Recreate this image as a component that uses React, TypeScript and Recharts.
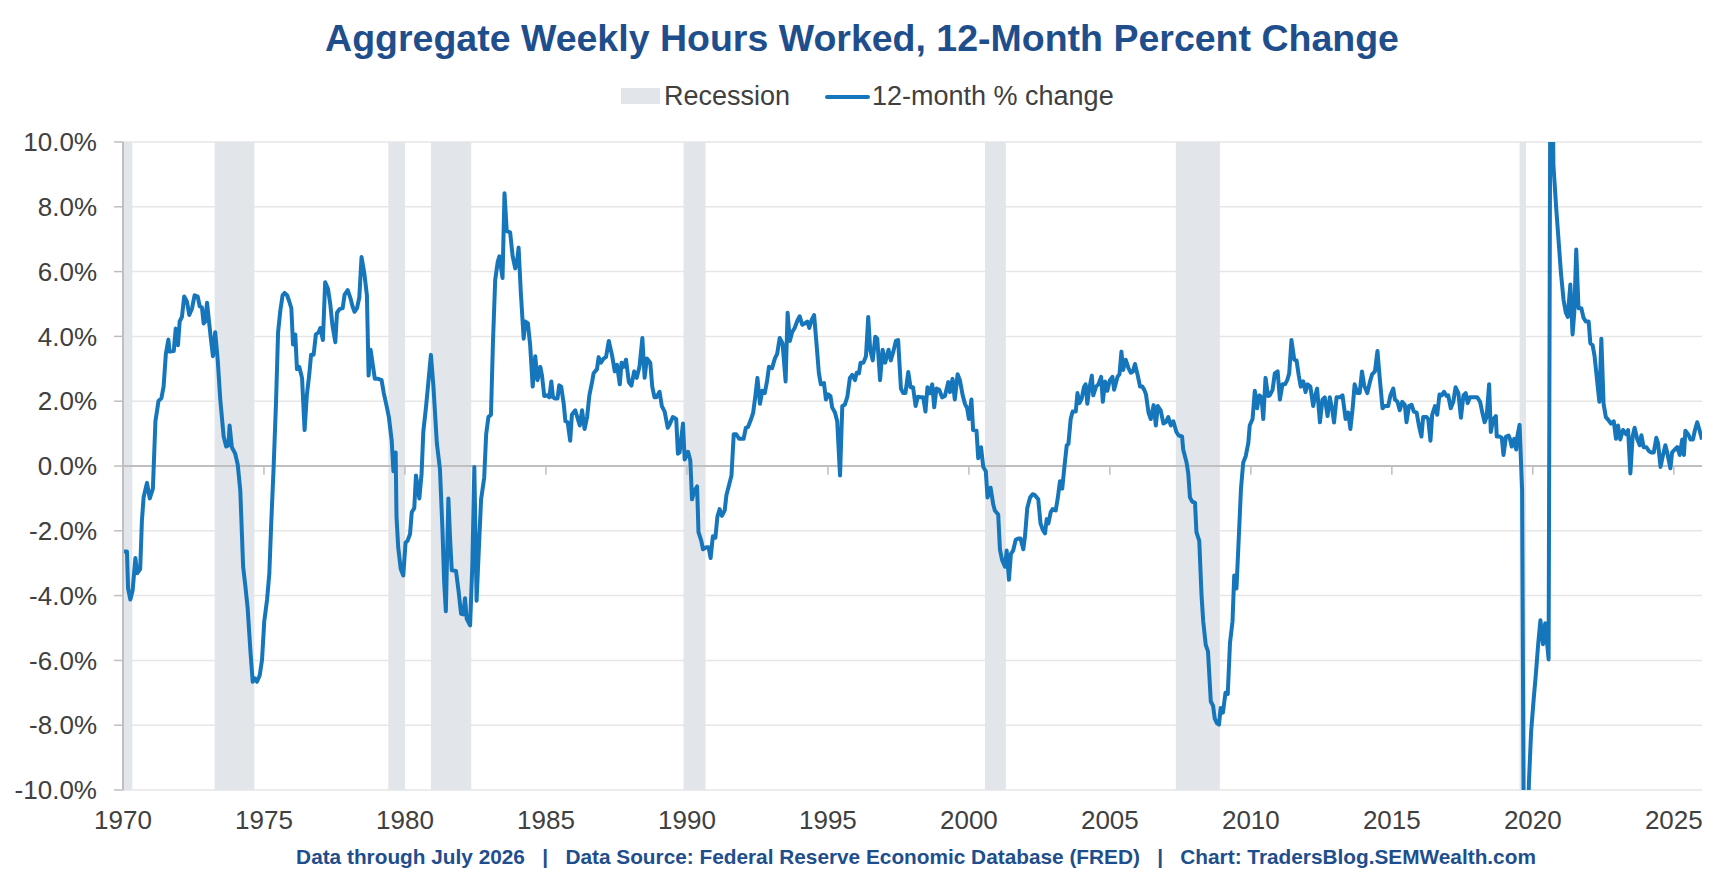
import React from 'react';
import {
  ComposedChart,
  Line,
  XAxis,
  YAxis,
  CartesianGrid,
  ReferenceArea,
  ReferenceLine,
} from 'recharts';

const TITLE = 'Aggregate Weekly Hours Worked, 12-Month Percent Change';
const FOOTER = 'Data through July 2026   |   Data Source: Federal Reserve Economic Database (FRED)   |   Chart: TradersBlog.SEMWealth.com';
const LEGEND_RECESSION = 'Recession';
const LEGEND_LINE = '12-month % change';

const xTicks = [1970, 1975, 1980, 1985, 1990, 1995, 2000, 2005, 2010, 2015, 2020, 2025];
const yTicks = [-10, -8, -6, -4, -2, 0, 2, 4, 6, 8, 10];

const recessions: [number, number][] = [
  [1970.0, 1970.33], [1973.25, 1974.66], [1979.41, 1980.0], [1980.92, 1982.35],
  [1989.88, 1990.66], [2000.57, 2001.31], [2007.34, 2008.9], [2019.53, 2019.76],
];

const pts1970s: [number, number][] = [
  [1970.00,-2.64],[1970.14,-2.64],[1970.18,-3.78],[1970.26,-4.12],[1970.34,-3.85],[1970.44,-2.84],[1970.50,-3.31],[1970.61,-3.18],[1970.67,-1.70],[1970.73,-0.97],[1970.85,-0.52],[1970.95,-1.00],
  [1971.06,-0.70],[1971.15,1.38],[1971.26,2.01],[1971.36,2.09],[1971.44,2.45],[1971.52,3.46],[1971.61,3.90],[1971.65,3.53],[1971.80,3.55],[1971.87,4.24],[1971.95,3.73],
  [1972.01,4.46],[1972.09,4.60],[1972.17,5.23],[1972.27,5.07],[1972.35,4.66],[1972.45,4.87],[1972.54,5.27],[1972.65,5.23],[1972.72,4.93],[1972.80,4.89],[1972.86,4.40],[1972.92,4.46],[1972.98,5.04],
  [1973.10,4.06],[1973.19,3.39],[1973.27,4.13],[1973.36,3.26],[1973.45,2.05],[1973.57,0.91],[1973.66,0.60],[1973.74,0.64],[1973.78,1.25],[1973.86,0.58],[1973.98,0.38],
  [1974.07,0.04],[1974.16,-0.76],[1974.26,-3.11],[1974.34,-3.71],[1974.42,-4.38],[1974.52,-5.72],[1974.60,-6.66],[1974.67,-6.55],[1974.75,-6.66],[1974.85,-6.46],[1974.93,-5.99],
  [1975.01,-4.79],[1975.11,-4.12],[1975.19,-3.31],[1975.26,-1.70],[1975.34,-0.09],[1975.43,2.05],[1975.50,4.13],[1975.58,4.80],[1975.66,5.27],[1975.73,5.34],[1975.82,5.27],[1975.90,5.07],[1975.97,4.87],
  [1976.03,3.75],[1976.11,4.06],[1976.17,2.99],[1976.25,3.06],[1976.35,2.72],[1976.44,1.11],[1976.52,2.18],[1976.61,2.86],[1976.67,3.43],[1976.76,3.43],[1976.84,4.06],[1976.94,4.13],
  [1977.00,4.26],[1977.09,3.89],[1977.17,5.67],[1977.27,5.47],[1977.35,5.00],[1977.43,4.33],[1977.53,3.82],[1977.59,4.73],[1977.68,4.84],[1977.79,4.87],[1977.86,5.29],[1977.97,5.43],
  [1978.06,5.20],[1978.14,4.93],[1978.21,4.76],[1978.30,4.87],[1978.38,5.20],[1978.46,6.45],[1978.56,5.94],[1978.65,5.27],[1978.71,2.79],[1978.78,3.59],[1978.87,3.06],[1978.93,2.69],
  [1979.05,2.69],[1979.17,2.65],[1979.25,2.25],[1979.35,1.85],[1979.43,1.51],[1979.53,0.78],[1979.59,-0.16],[1979.67,0.42],[1979.70,-1.57],[1979.76,-2.51],[1979.85,-3.18],[1979.94,-3.38],
];

const pts1980s: [number, number][] = [
  [1980.02,-2.37],[1980.09,-2.31],[1980.18,-2.10],[1980.24,-1.43],[1980.33,-1.30],[1980.39,-0.29],[1980.51,-1.00],[1980.59,-0.23],[1980.65,1.05],[1980.75,1.85],[1980.83,2.59],[1980.92,3.43],
  [1981.01,2.45],[1981.13,0.71],[1981.24,-0.09],[1981.33,-1.97],[1981.39,-3.58],[1981.45,-4.48],[1981.54,-1.00],[1981.60,-2.24],[1981.66,-3.22],[1981.81,-3.24],[1981.90,-3.85],[1981.99,-4.56],
  [1982.07,-4.58],[1982.13,-4.08],[1982.19,-4.72],[1982.31,-4.92],[1982.39,-3.04],[1982.46,-0.03],[1982.54,-4.16],[1982.63,-2.37],[1982.70,-1.03],[1982.81,-0.36],[1982.88,0.98],[1982.96,1.51],
  [1983.05,1.58],[1983.12,3.79],[1983.20,5.74],[1983.29,6.30],[1983.35,6.47],[1983.46,5.80],[1983.53,8.42],[1983.61,7.25],[1983.73,7.21],[1983.82,6.47],[1983.91,6.10],[1983.97,6.27],
  [1984.03,6.74],[1984.11,5.34],[1984.21,3.93],[1984.27,4.46],[1984.36,4.40],[1984.44,3.73],[1984.53,2.45],[1984.62,3.39],[1984.70,2.65],[1984.80,3.06],[1984.86,2.79],[1984.94,2.16],
  [1985.04,2.18],[1985.12,2.12],[1985.19,2.61],[1985.25,2.12],[1985.33,2.08],[1985.41,2.08],[1985.47,2.49],[1985.54,2.45],[1985.63,1.92],[1985.69,1.38],[1985.77,1.35],[1985.86,0.78],[1985.92,1.58],
  [1986.04,1.72],[1986.13,1.45],[1986.20,1.25],[1986.28,1.72],[1986.37,1.14],[1986.46,1.51],[1986.54,2.18],[1986.64,2.61],[1986.69,2.86],[1986.81,2.99],[1986.87,3.36],[1986.95,3.19],
  [1987.05,3.32],[1987.13,3.36],[1987.23,3.86],[1987.35,3.39],[1987.44,2.92],[1987.52,3.12],[1987.62,2.52],[1987.68,3.19],[1987.76,3.06],[1987.84,3.28],[1987.94,2.59],
  [1988.03,2.48],[1988.13,2.92],[1988.22,2.72],[1988.32,3.08],[1988.42,3.95],[1988.50,2.72],[1988.58,3.32],[1988.70,3.19],[1988.77,2.45],[1988.85,2.12],[1988.92,2.12],
  [1989.03,2.29],[1989.11,1.85],[1989.21,1.68],[1989.32,1.18],[1989.38,1.27],[1989.50,1.51],[1989.62,1.45],[1989.68,0.38],[1989.74,0.42],[1989.86,1.31],[1989.92,0.20],
];

const pts1990s: [number, number][] = [
  [1990.04,0.44],[1990.12,0.17],[1990.18,-1.03],[1990.27,-0.76],[1990.36,-0.63],[1990.41,-2.04],[1990.51,-2.31],[1990.57,-2.57],[1990.69,-2.51],[1990.77,-2.51],[1990.84,-2.84],[1990.92,-2.17],
  [1991.01,-2.21],[1991.08,-1.57],[1991.16,-1.33],[1991.24,-1.54],[1991.34,-1.37],[1991.40,-0.90],[1991.48,-0.63],[1991.58,-0.29],[1991.66,0.98],[1991.75,0.98],[1991.85,0.84],
  [1992.01,0.84],[1992.09,1.18],[1992.17,1.21],[1992.26,1.41],[1992.35,1.65],[1992.43,2.18],[1992.50,2.72],[1992.59,1.92],[1992.67,2.32],[1992.76,2.25],[1992.84,2.61],[1992.91,3.06],
  [1993.02,3.02],[1993.12,3.32],[1993.20,3.46],[1993.29,3.95],[1993.39,3.79],[1993.50,2.61],[1993.57,4.73],[1993.65,3.86],[1993.73,4.13],[1993.82,4.26],[1993.92,4.49],
  [1994.00,4.62],[1994.09,4.36],[1994.18,4.40],[1994.27,4.46],[1994.34,4.26],[1994.42,4.50],[1994.51,4.66],[1994.60,3.73],[1994.68,2.86],[1994.75,2.52],[1994.86,2.56],[1994.93,2.05],
  [1995.01,2.21],[1995.09,2.16],[1995.15,1.81],[1995.25,1.65],[1995.33,1.38],[1995.43,-0.29],[1995.51,1.85],[1995.60,1.89],[1995.69,2.14],[1995.78,2.72],[1995.86,2.81],[1995.96,2.65],
  [1996.02,2.88],[1996.10,2.86],[1996.16,3.19],[1996.26,3.19],[1996.35,3.39],[1996.43,4.60],[1996.50,3.59],[1996.59,3.26],[1996.68,3.99],[1996.75,3.93],[1996.85,2.65],[1996.94,3.59],
  [1997.03,3.19],[1997.15,3.59],[1997.23,3.26],[1997.32,3.53],[1997.41,3.86],[1997.49,3.89],[1997.59,2.39],[1997.67,2.25],[1997.75,2.25],[1997.85,2.90],[1997.93,2.43],
  [1998.02,2.43],[1998.11,1.85],[1998.19,2.14],[1998.28,2.12],[1998.38,2.12],[1998.46,1.68],[1998.53,2.43],[1998.62,2.25],[1998.70,2.52],[1998.77,1.81],[1998.85,2.39],[1998.95,2.35],
  [1999.05,2.12],[1999.15,2.16],[1999.27,2.59],[1999.33,2.28],[1999.42,2.69],[1999.50,2.05],[1999.60,2.83],[1999.68,2.65],[1999.78,2.18],[1999.86,1.92],[1999.94,1.78],
];

const pts2000s: [number, number][] = [
  [2000.00,1.45],[2000.09,2.05],[2000.15,1.11],[2000.27,1.09],[2000.33,0.24],[2000.43,0.58],[2000.51,-0.03],[2000.60,-0.16],[2000.66,-0.97],[2000.77,-0.67],[2000.86,-1.17],[2000.92,-1.37],
  [2001.04,-1.50],[2001.10,-2.57],[2001.18,-2.91],[2001.28,-3.11],[2001.34,-2.61],[2001.42,-3.51],[2001.49,-2.71],[2001.57,-2.61],[2001.66,-2.28],[2001.75,-2.24],[2001.83,-2.24],[2001.93,-2.57],[2001.99,-2.17],
  [2002.07,-1.30],[2002.17,-0.97],[2002.26,-0.87],[2002.34,-0.90],[2002.46,-1.03],[2002.54,-1.77],[2002.62,-1.97],[2002.70,-2.08],[2002.76,-1.64],[2002.82,-1.77],[2002.90,-1.43],[2002.97,-1.33],
  [2003.08,-1.37],[2003.15,-1.00],[2003.23,-0.47],[2003.31,-0.70],[2003.38,-0.09],[2003.47,0.64],[2003.53,0.68],[2003.61,1.45],[2003.68,1.68],[2003.79,1.68],[2003.85,2.25],[2003.92,1.94],
  [2004.00,2.08],[2004.08,2.43],[2004.14,2.52],[2004.20,1.92],[2004.27,2.39],[2004.36,2.79],[2004.41,2.18],[2004.51,2.45],[2004.59,2.52],[2004.69,2.75],[2004.75,1.98],[2004.83,2.61],[2004.91,2.32],
  [2005.00,2.65],[2005.09,2.75],[2005.15,2.35],[2005.27,2.75],[2005.34,2.83],[2005.41,3.53],[2005.47,2.96],[2005.56,3.28],[2005.66,3.02],[2005.74,2.88],[2005.82,2.92],[2005.89,3.15],[2005.99,2.79],
  [2006.07,2.45],[2006.15,2.45],[2006.22,2.35],[2006.28,2.21],[2006.37,1.65],[2006.45,1.45],[2006.55,1.88],[2006.63,1.25],[2006.70,1.85],[2006.80,1.72],[2006.90,1.31],[2006.98,1.35],
  [2007.07,1.51],[2007.16,1.25],[2007.25,1.38],[2007.36,1.05],[2007.44,0.94],[2007.56,0.91],[2007.60,0.51],[2007.72,0.11],[2007.78,-0.23],[2007.84,-0.97],[2007.92,-1.10],
  [2008.02,-1.14],[2008.07,-2.04],[2008.17,-2.31],[2008.25,-3.98],[2008.31,-4.79],[2008.40,-5.52],[2008.48,-5.72],[2008.58,-7.27],[2008.66,-7.40],[2008.72,-7.80],[2008.80,-7.94],[2008.87,-7.98],[2008.93,-7.47],
  [2009.01,-7.61],[2009.10,-7.00],[2009.18,-7.04],[2009.26,-5.46],[2009.35,-4.79],[2009.41,-3.38],[2009.49,-3.78],[2009.57,-2.24],[2009.65,-0.70],[2009.73,0.11],[2009.82,0.31],[2009.91,0.71],[2009.96,1.25],
];

const pts2010s: [number, number][] = [
  [2010.06,1.45],[2010.14,2.32],[2010.22,1.78],[2010.30,2.18],[2010.38,2.12],[2010.44,1.45],[2010.52,2.72],[2010.61,2.16],[2010.67,2.18],[2010.77,2.35],[2010.85,2.86],[2010.95,2.92],
  [2011.03,2.05],[2011.12,2.52],[2011.21,2.52],[2011.29,2.65],[2011.36,2.86],[2011.44,3.89],[2011.54,3.28],[2011.62,3.26],[2011.70,2.79],[2011.77,2.45],[2011.86,2.61],[2011.94,2.28],
  [2012.01,2.52],[2012.11,2.45],[2012.21,1.85],[2012.27,2.12],[2012.35,2.39],[2012.45,1.35],[2012.54,2.05],[2012.62,2.12],[2012.72,1.54],[2012.80,2.12],[2012.89,1.72],[2012.95,1.34],
  [2013.04,2.12],[2013.16,2.12],[2013.25,2.18],[2013.36,1.45],[2013.45,1.65],[2013.53,1.14],[2013.61,1.78],[2013.68,2.52],[2013.78,2.25],[2013.86,2.25],[2013.94,2.92],
  [2014.02,2.48],[2014.13,2.25],[2014.22,2.59],[2014.30,2.83],[2014.40,2.92],[2014.49,3.55],[2014.57,2.72],[2014.67,1.78],[2014.75,1.85],[2014.87,1.85],[2014.95,2.18],
  [2015.05,2.39],[2015.11,2.05],[2015.20,1.98],[2015.28,1.72],[2015.37,1.98],[2015.46,1.89],[2015.52,1.35],[2015.61,1.85],[2015.70,1.89],[2015.78,1.68],[2015.88,1.65],[2015.96,1.25],
  [2016.05,0.91],[2016.11,1.51],[2016.23,1.51],[2016.29,1.45],[2016.37,0.78],[2016.43,1.58],[2016.53,1.85],[2016.61,1.58],[2016.69,2.21],[2016.77,2.18],[2016.85,2.29],[2016.94,2.16],
  [2017.00,2.18],[2017.09,1.78],[2017.18,1.98],[2017.26,2.43],[2017.36,2.25],[2017.45,1.49],[2017.54,2.18],[2017.62,2.25],[2017.69,1.94],[2017.77,2.12],[2017.89,2.12],
  [2018.03,2.12],[2018.13,1.98],[2018.21,1.65],[2018.29,1.35],[2018.36,1.51],[2018.45,2.52],[2018.51,1.05],[2018.60,1.45],[2018.69,1.54],[2018.72,0.91],[2018.82,0.91],[2018.90,0.87],[2018.96,0.34],
  [2019.05,0.91],[2019.14,0.94],[2019.19,0.84],[2019.25,0.60],[2019.34,0.84],[2019.41,0.51],[2019.45,0.91],[2019.53,1.27],[2019.62,-0.75],[2019.70,-15.5],[2019.78,-13.5],[2019.86,-9.8],[2019.94,-8.2],
];

const pts2020s: [number, number][] = [
  [2020.03,-7.2],[2020.11,-6.4],[2020.19,-5.5],[2020.27,-4.76],[2020.36,-5.5],[2020.44,-4.85],[2020.56,-5.97],[2020.64,18.0],[2020.73,9.3],[2020.83,7.95],[2020.91,7.0],
  [2021.00,5.93],[2021.09,5.13],[2021.17,4.73],[2021.24,4.60],[2021.33,5.60],[2021.41,4.06],[2021.47,4.73],[2021.54,6.68],[2021.62,4.87],[2021.72,4.87],[2021.80,4.57],[2021.88,4.46],[2021.98,4.46],
  [2022.04,3.79],[2022.12,3.73],[2022.19,3.39],[2022.27,2.72],[2022.36,1.98],[2022.43,3.93],[2022.51,1.92],[2022.59,1.51],[2022.69,1.41],[2022.77,1.31],[2022.87,1.38],[2022.95,0.84],
  [2023.02,1.25],[2023.10,0.82],[2023.20,1.11],[2023.31,0.98],[2023.38,1.11],[2023.46,-0.23],[2023.54,0.91],[2023.61,1.18],[2023.70,0.84],[2023.79,0.64],[2023.85,0.95],[2023.93,0.58],
  [2024.03,0.58],[2024.11,0.47],[2024.19,0.42],[2024.29,0.42],[2024.38,0.87],[2024.44,0.71],[2024.53,-0.03],[2024.61,0.31],[2024.70,0.64],[2024.76,0.44],[2024.88,-0.07],[2024.94,0.42],
  [2025.04,0.51],[2025.12,0.58],[2025.21,0.34],[2025.30,0.82],[2025.36,0.34],[2025.41,1.09],[2025.51,0.98],[2025.59,0.82],[2025.68,0.82],[2025.75,1.11],[2025.83,1.35],[2025.91,1.11],[2026.00,0.82],
];

const allPoints = [...pts1970s, ...pts1980s, ...pts1990s, ...pts2000s, ...pts2010s, ...pts2020s];
const chartData = allPoints.map(([x, v]) => ({ x, v }));

const FONT = '"Liberation Sans", Arial, Helvetica, sans-serif';
const NAVY = '#1f4e8c';
const LINE_BLUE = '#1676bc';
const BAND = '#e2e5e9';
const AXIS_GRAY = '#bfbfbf';
const TEXT_GRAY = '#404040';

export default function App() {
  return (
    <div
      style={{
        position: 'absolute',
        left: 0,
        top: 0,
        width: 1725,
        height: 892,
        background: '#ffffff',
        fontFamily: FONT,
        overflow: 'hidden',
      }}
    >
      <div style={{ position: 'absolute', left: 0, top: 0 }}>
        <ComposedChart
          width={1725}
          height={892}
          data={chartData}
          margin={{ top: 142, right: 23, bottom: 0, left: 0 }}
        >
          <CartesianGrid vertical={false} stroke="#e6e6e6" strokeWidth={1.5} />
          <XAxis
            dataKey="x"
            type="number"
            domain={[1970, 2026]}
            ticks={xTicks}
            interval={0}
            allowDataOverflow
            axisLine={false}
            tickLine={false}
            tickSize={0}
            tickMargin={21}
            height={102}
            tick={{ fill: TEXT_GRAY, fontSize: 26, fontFamily: FONT }}
          />
          <YAxis
            type="number"
            domain={[-10, 10]}
            ticks={yTicks}
            interval={0}
            allowDataOverflow
            width={123}
            axisLine={{ stroke: AXIS_GRAY, strokeWidth: 2 }}
            tickLine={{ stroke: AXIS_GRAY, strokeWidth: 1.5 }}
            tickSize={9}
            tickMargin={17}
            tickFormatter={(v: number) => `${v.toFixed(1)}%`}
            tick={{ fill: TEXT_GRAY, fontSize: 26, fontFamily: FONT }}
          />
          {recessions.map(([a, b], i) => (
            <ReferenceArea key={`r${i}`} x1={a} x2={b} fill={BAND} fillOpacity={1} stroke="none" />
          ))}
          <ReferenceLine y={0} stroke={AXIS_GRAY} strokeWidth={2} />
          {xTicks.slice(1).map((t) => (
            <ReferenceLine
              key={`t${t}`}
              segment={[{ x: t, y: 0 }, { x: t, y: -0.27 }]}
              stroke={AXIS_GRAY}
              strokeWidth={1.5}
              ifOverflow="visible"
            />
          ))}
          <Line
            dataKey="v"
            type="linear"
            stroke={LINE_BLUE}
            strokeWidth={4}
            strokeLinejoin="round"
            dot={false}
            activeDot={false}
            isAnimationActive={false}
          />
        </ComposedChart>
      </div>

      <div
        style={{
          position: 'absolute',
          left: 162,
          top: 19,
          width: 1400,
          textAlign: 'center',
          fontSize: 37.5,
          lineHeight: '38px',
          fontWeight: 700,
          color: NAVY,
          whiteSpace: 'nowrap',
        }}
      >
        {TITLE}
      </div>

      <div style={{ position: 'absolute', left: 621, top: 88, width: 39, height: 16, background: BAND }} />
      <div
        style={{
          position: 'absolute',
          left: 664,
          top: 83,
          fontSize: 27,
          lineHeight: '27px',
          color: TEXT_GRAY,
          whiteSpace: 'nowrap',
        }}
      >
        {LEGEND_RECESSION}
      </div>
      <div style={{ position: 'absolute', left: 825, top: 95, width: 45, height: 4, background: LINE_BLUE, borderRadius: 2 }} />
      <div
        style={{
          position: 'absolute',
          left: 872,
          top: 83,
          fontSize: 27,
          lineHeight: '27px',
          color: TEXT_GRAY,
          whiteSpace: 'nowrap',
        }}
      >
        {LEGEND_LINE}
      </div>

      <div
        style={{
          position: 'absolute',
          left: 116,
          top: 846,
          width: 1600,
          textAlign: 'center',
          fontSize: 20.8,
          lineHeight: '21px',
          fontWeight: 700,
          color: NAVY,
          whiteSpace: 'pre',
        }}
      >
        {FOOTER}
      </div>
    </div>
  );
}
